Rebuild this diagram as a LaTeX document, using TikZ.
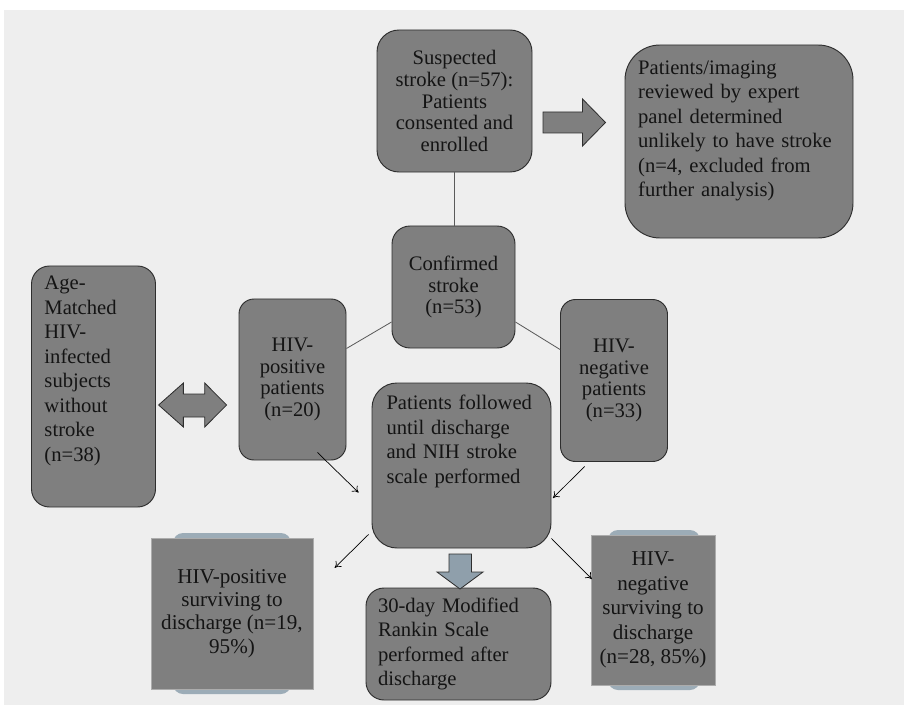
\documentclass[tikz,border=0pt]{standalone}
\usepackage{fontspec}
\setmainfont{Liberation Serif}
\usetikzlibrary{arrows.meta,calc}

\definecolor{boxgrey}{HTML}{7F7F7F}
\definecolor{bggrey}{HTML}{EEEEEE}
\definecolor{edgegrey}{HTML}{2E2E2E}
\definecolor{linegrey}{HTML}{5A5A5A}
\definecolor{steelband}{HTML}{9CACB7}
\definecolor{arrowblue}{HTML}{8F9FAB}

\begin{document}
\begin{tikzpicture}[x=0.03cm, y=-0.03cm,
    box/.style={draw=edgegrey, line width=0.8pt, fill=boxgrey, rounded corners=#1,
        inner sep=0pt, align=center, text=black!92,
        font=\fontsize{17.6}{18.6}\selectfont},
    lbox/.style={box=#1, align=left, font=\fontsize{17.6}{20.9}\selectfont},
    sqbox/.style={draw=gray!65, line width=0.4pt, fill=boxgrey, inner sep=0pt,
        align=center, text=black!92},
    band/.style={fill=steelband, rounded corners=0.3cm},
    link/.style={draw=linegrey, line width=0.7pt},
    >={To[length=5pt,width=7pt]},
    arr/.style={->, line width=0.6pt, black},
    block/.style={draw=edgegrey, line width=0.7pt, fill=boxgrey},
]

%------------------------ 背景 ------------------------
\useasboundingbox (0,0) rectangle (904,705);
\fill[bggrey] (4,10) rectangle (904,705);

%------------------------ 上部 ------------------------
\node[box=0.66cm, minimum width=4.65cm, minimum height=4.26cm] (susp) at (454.5,101)
  {Suspected\\stroke (n=57):\\Patients\\consented and\\enrolled};

\node[lbox=1.05cm, minimum width=6.84cm, minimum height=5.79cm, text width=6.05cm,
      text height=12pt, text depth=127pt] (review) at (739,141.5)
  {Patients/imaging\\reviewed by expert\\panel determined\\unlikely to have stroke\\(n=4, excluded from\\further analysis)};

% 右向块箭头
\draw[block] (543,112) -- (582.5,112) -- (582.5,99) -- (605.5,122.5)
  -- (582.5,146) -- (582.5,133) -- (543,133) -- cycle;

\node[box=0.54cm, minimum width=3.69cm, minimum height=3.66cm] (conf) at (453.5,287)
  {Confirmed\\stroke\\(n=53)};

%------------------------ 中部 ------------------------
\node[box=0.45cm, minimum width=3.21cm, minimum height=4.83cm] (hivpos) at (292.5,379.5)
  {HIV-\\positive\\patients\\(n=20)};
\node[box=0.45cm, minimum width=3.21cm, minimum height=4.86cm] (hivneg) at (614,380.5)
  {HIV-\\negative\\patients\\(n=33)};

\node[lbox=0.54cm, minimum width=3.72cm, minimum height=7.23cm, text width=2.94cm,
      text height=12pt, text depth=176.8pt] (agem) at (93.5,386.5)
  {Age-\\Matched\\HIV-\\infected\\subjects\\without\\stroke\\(n=38)};

% 双向块箭头
\draw[block] (158.6,405) -- (183.4,383) -- (183.4,394) -- (204.7,394) -- (204.7,383)
  -- (226.6,405) -- (204.7,427) -- (204.7,417) -- (183.4,417) -- (183.4,427) -- cycle;

\node[lbox=0.75cm, minimum width=5.37cm, minimum height=4.95cm, text width=4.5cm,
      text height=12pt, text depth=106.8pt] (follow) at (461.5,465.5)
  {Patients followed\\until discharge\\and NIH stroke\\scale performed};

% 连接线
\draw[link] (susp.south) -- (susp.south |- conf.north);
\draw[link] ($(conf.west)+(0,35)$) -- ($(hivpos.east)+(0,-31)$);
\draw[link] ($(conf.east)+(0,35)$) -- ($(hivneg.west)+(0,-31)$);

\draw[arr] ($(hivpos.south east)+(-29,-8)$) -- ($(follow.west)+(-13,27)$);
\draw[arr] ($(hivneg.south west)+(24.5,4.5)$) -- ($(follow.east)+(1.5,32.5)$);

%------------------------ 下部 ------------------------
\fill[band] (173,533) rectangle (291,694);
\node[sqbox, minimum width=4.86cm, minimum height=4.53cm,
      font=\fontsize{18}{19.9}\selectfont] (possurv) at (232,613.5)
  {HIV-positive\\surviving to\\discharge (n=19,\\95\%)};

\fill[band] (608,530) rectangle (700,690);
\node[sqbox, minimum width=3.72cm, minimum height=4.5cm,
      font=\fontsize{18}{20.9}\selectfont] (negsurv) at (653,610)
  {HIV-\\negative\\surviving to\\discharge\\(n=28, 85\%)};

\node[lbox=0.54cm, minimum width=5.55cm, minimum height=3.36cm, text width=4.83cm] (rankin) at (458.5,644)
  {30-day Modified\\Rankin Scale\\performed after\\discharge};

% 向下块箭头
\draw[block, fill=arrowblue] (449,554) -- (471.5,554) -- (471.5,572) -- (483,572)
  -- (460,589) -- (437,572) -- (449,572) -- cycle;

\draw[arr] ($(follow.south west)+(-3,-14)$) -- ($(possurv.north east)+(21.5,30)$);
\draw[arr] ($(follow.south east)+(0,-10)$) -- ($(negsurv.west)+(1,-31)$);

\end{tikzpicture}
\end{document}
